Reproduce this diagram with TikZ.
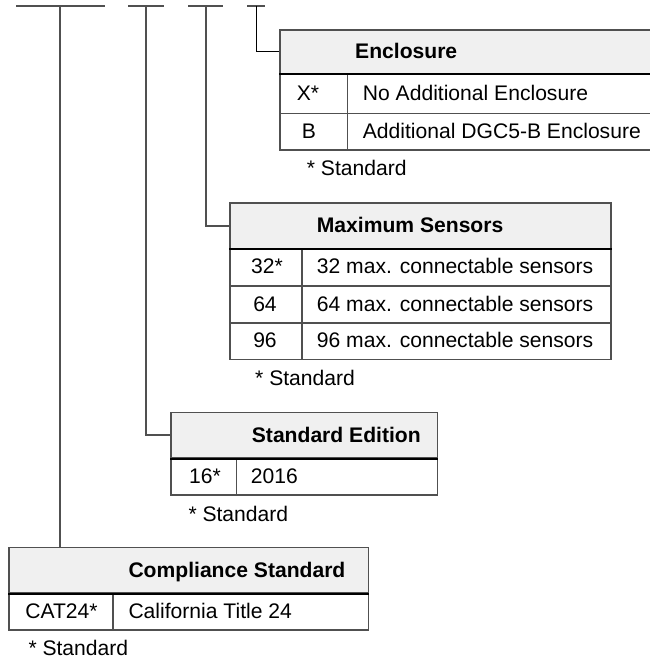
\documentclass[tikz,border=0pt]{standalone}
\usepackage{fontspec}
\setmainfont{Liberation Sans}
\definecolor{rule}{HTML}{505050}
\definecolor{headfill}{HTML}{F0F0F0}
\tikzset{
  txt/.style={font=\fontsize{21.1}{25}\selectfont, inner sep=0pt},
  headtxt/.style={font=\fontsize{21.1}{25}\selectfont\bfseries, inner sep=0pt},
  cellbox/.style={draw=rule, line width=1.5pt, anchor=north west, inner sep=0pt},
  headbox/.style={cellbox, fill=headfill},
  headrule/.style={line width=2pt, black},
  bar/.style={draw=rule, line width=2.2pt},
  link/.style={draw=rule, line width=1.6pt},
}
\begin{document}
\begin{tikzpicture}[x=1pt, y=-1pt]
\useasboundingbox (0,0) rectangle (650,662);

% ---------- Enclosure ----------
\node[headbox, minimum width=372.7pt, minimum height=43.4pt] (encH) at (279.3,29.3) {};
\node[cellbox, minimum width=67.4pt, minimum height=40pt] (encA1) at (279.3,72.7) {};
\node[cellbox, minimum width=305.3pt, minimum height=40pt] (encA2) at (346.7,72.7) {};
\node[cellbox, minimum width=67.4pt, minimum height=36.6pt] (encB1) at (279.3,112.7) {};
\node[cellbox, minimum width=305.3pt, minimum height=36.6pt] (encB2) at (346.7,112.7) {};
\draw[headrule] (encH.south west) -- (encH.south east);
\node[headtxt, anchor=base west] (encT) at (355,58.6) {Enclosure};
\node[txt, anchor=base] (encA1t) at (308,100.3) {X*};
\node[txt, anchor=base west] (encA2t) at (362.7,100.3) {No Additional Enclosure};
\node[txt, anchor=base] (encB1t) at (309,138.6) {B};
\node[txt, anchor=base west] (encB2t) at (362.7,138.6) {Additional DGC5-B Enclosure};
\node[txt, anchor=base west] (encN) at (306.7,175.6) {* Standard};

% ---------- Maximum Sensors ----------
\node[headbox, minimum width=381pt, minimum height=45.4pt] (maxH) at (229,202.3) {};
\node[cellbox, minimum width=72pt, minimum height=37.3pt] (maxA1) at (229,247.7) {};
\node[cellbox, minimum width=309pt, minimum height=37.3pt] (maxA2) at (301,247.7) {};
\node[cellbox, minimum width=72pt, minimum height=37pt] (maxB1) at (229,285) {};
\node[cellbox, minimum width=309pt, minimum height=37pt] (maxB2) at (301,285) {};
\node[cellbox, minimum width=72pt, minimum height=36.7pt] (maxC1) at (229,322) {};
\node[cellbox, minimum width=309pt, minimum height=36.7pt] (maxC2) at (301,322) {};
\draw[headrule] (maxH.south west) -- (maxH.south east);
\node[headtxt, anchor=base west] (maxT) at (316.7,232.6) {Maximum Sensors};
\node[txt, anchor=base] (maxA1t) at (267,273.9) {32*};
\node[txt, anchor=base west] (maxA2t) at (316.7,273.9) {32 max. connectable sensors};
\node[txt, anchor=base] (maxB1t) at (265,311.1) {64};
\node[txt, anchor=base west] (maxB2t) at (316.7,311.1) {64 max. connectable sensors};
\node[txt, anchor=base] (maxC1t) at (265,347.9) {96};
\node[txt, anchor=base west] (maxC2t) at (316.7,347.9) {96 max. connectable sensors};
\node[txt, anchor=base west] (maxN) at (255,385.1) {* Standard};

% ---------- Standard Edition ----------
\node[headbox, minimum width=266.7pt, minimum height=45.6pt] (edH) at (170,411.7) {};
\node[cellbox, minimum width=65.7pt, minimum height=36.7pt] (edA1) at (170,457.3) {};
\node[cellbox, minimum width=201pt, minimum height=36.7pt] (edA2) at (235.7,457.3) {};
\draw[headrule] (edH.south west) -- (edH.south east);
\node[headtxt, anchor=base west] (edT) at (251.7,442.1) {Standard Edition};
\node[txt, anchor=base] (edA1t) at (205,483.2) {16*};
\node[txt, anchor=base west] (edA2t) at (250.7,483.2) {2016};
\node[txt, anchor=base west] (edN) at (188.3,521.4) {* Standard};

% ---------- Compliance Standard ----------
\node[headbox, minimum width=359.4pt, minimum height=45.6pt] (cmH) at (8.3,546.7) {};
\node[cellbox, minimum width=104pt, minimum height=37pt] (cmA1) at (8.3,592.3) {};
\node[cellbox, minimum width=255.4pt, minimum height=37pt] (cmA2) at (112.3,592.3) {};
\draw[headrule] (cmH.south west) -- (cmH.south east);
\node[headtxt, anchor=base west] (cmT) at (128.3,577.1) {Compliance Standard};
\node[txt, anchor=base] (cmA1t) at (61.5,618.4) {CAT24*};
\node[txt, anchor=base west] (cmA2t) at (128.3,618.4) {California Title 24};
\node[txt, anchor=base west] (cmN) at (28.3,655.4) {* Standard};

% ---------- code position bars ----------
\coordinate (b1l) at (16,5.7);   \coordinate (b1r) at (105,5.7);  \coordinate (b1m) at (60,5.7);
\coordinate (b2l) at (128,5.7);  \coordinate (b2r) at (164,5.7);  \coordinate (b2m) at (146,5.7);
\coordinate (b3l) at (188.3,5.7);\coordinate (b3r) at (223.3,5.7);\coordinate (b3m) at (205.7,5.7);
\coordinate (b4l) at (247.3,5.7);\coordinate (b4r) at (265,5.7);  \coordinate (b4m) at (256.7,5.7);
\draw[bar] (b1l) -- (b1r);
\draw[bar] (b2l) -- (b2r);
\draw[bar] (b3l) -- (b3r);
\draw[bar] (b4l) -- (b4r);

% ---------- connectors ----------
\draw[link] (b1m) -- (b1m |- cmH.north);
\draw[link] (b2m) |- (edH.west);
\draw[link] (b3m) |- (maxH.west);
\draw[link, black, line width=1.3pt] (b4m) |- (encH.west);
\end{tikzpicture}
\end{document}
